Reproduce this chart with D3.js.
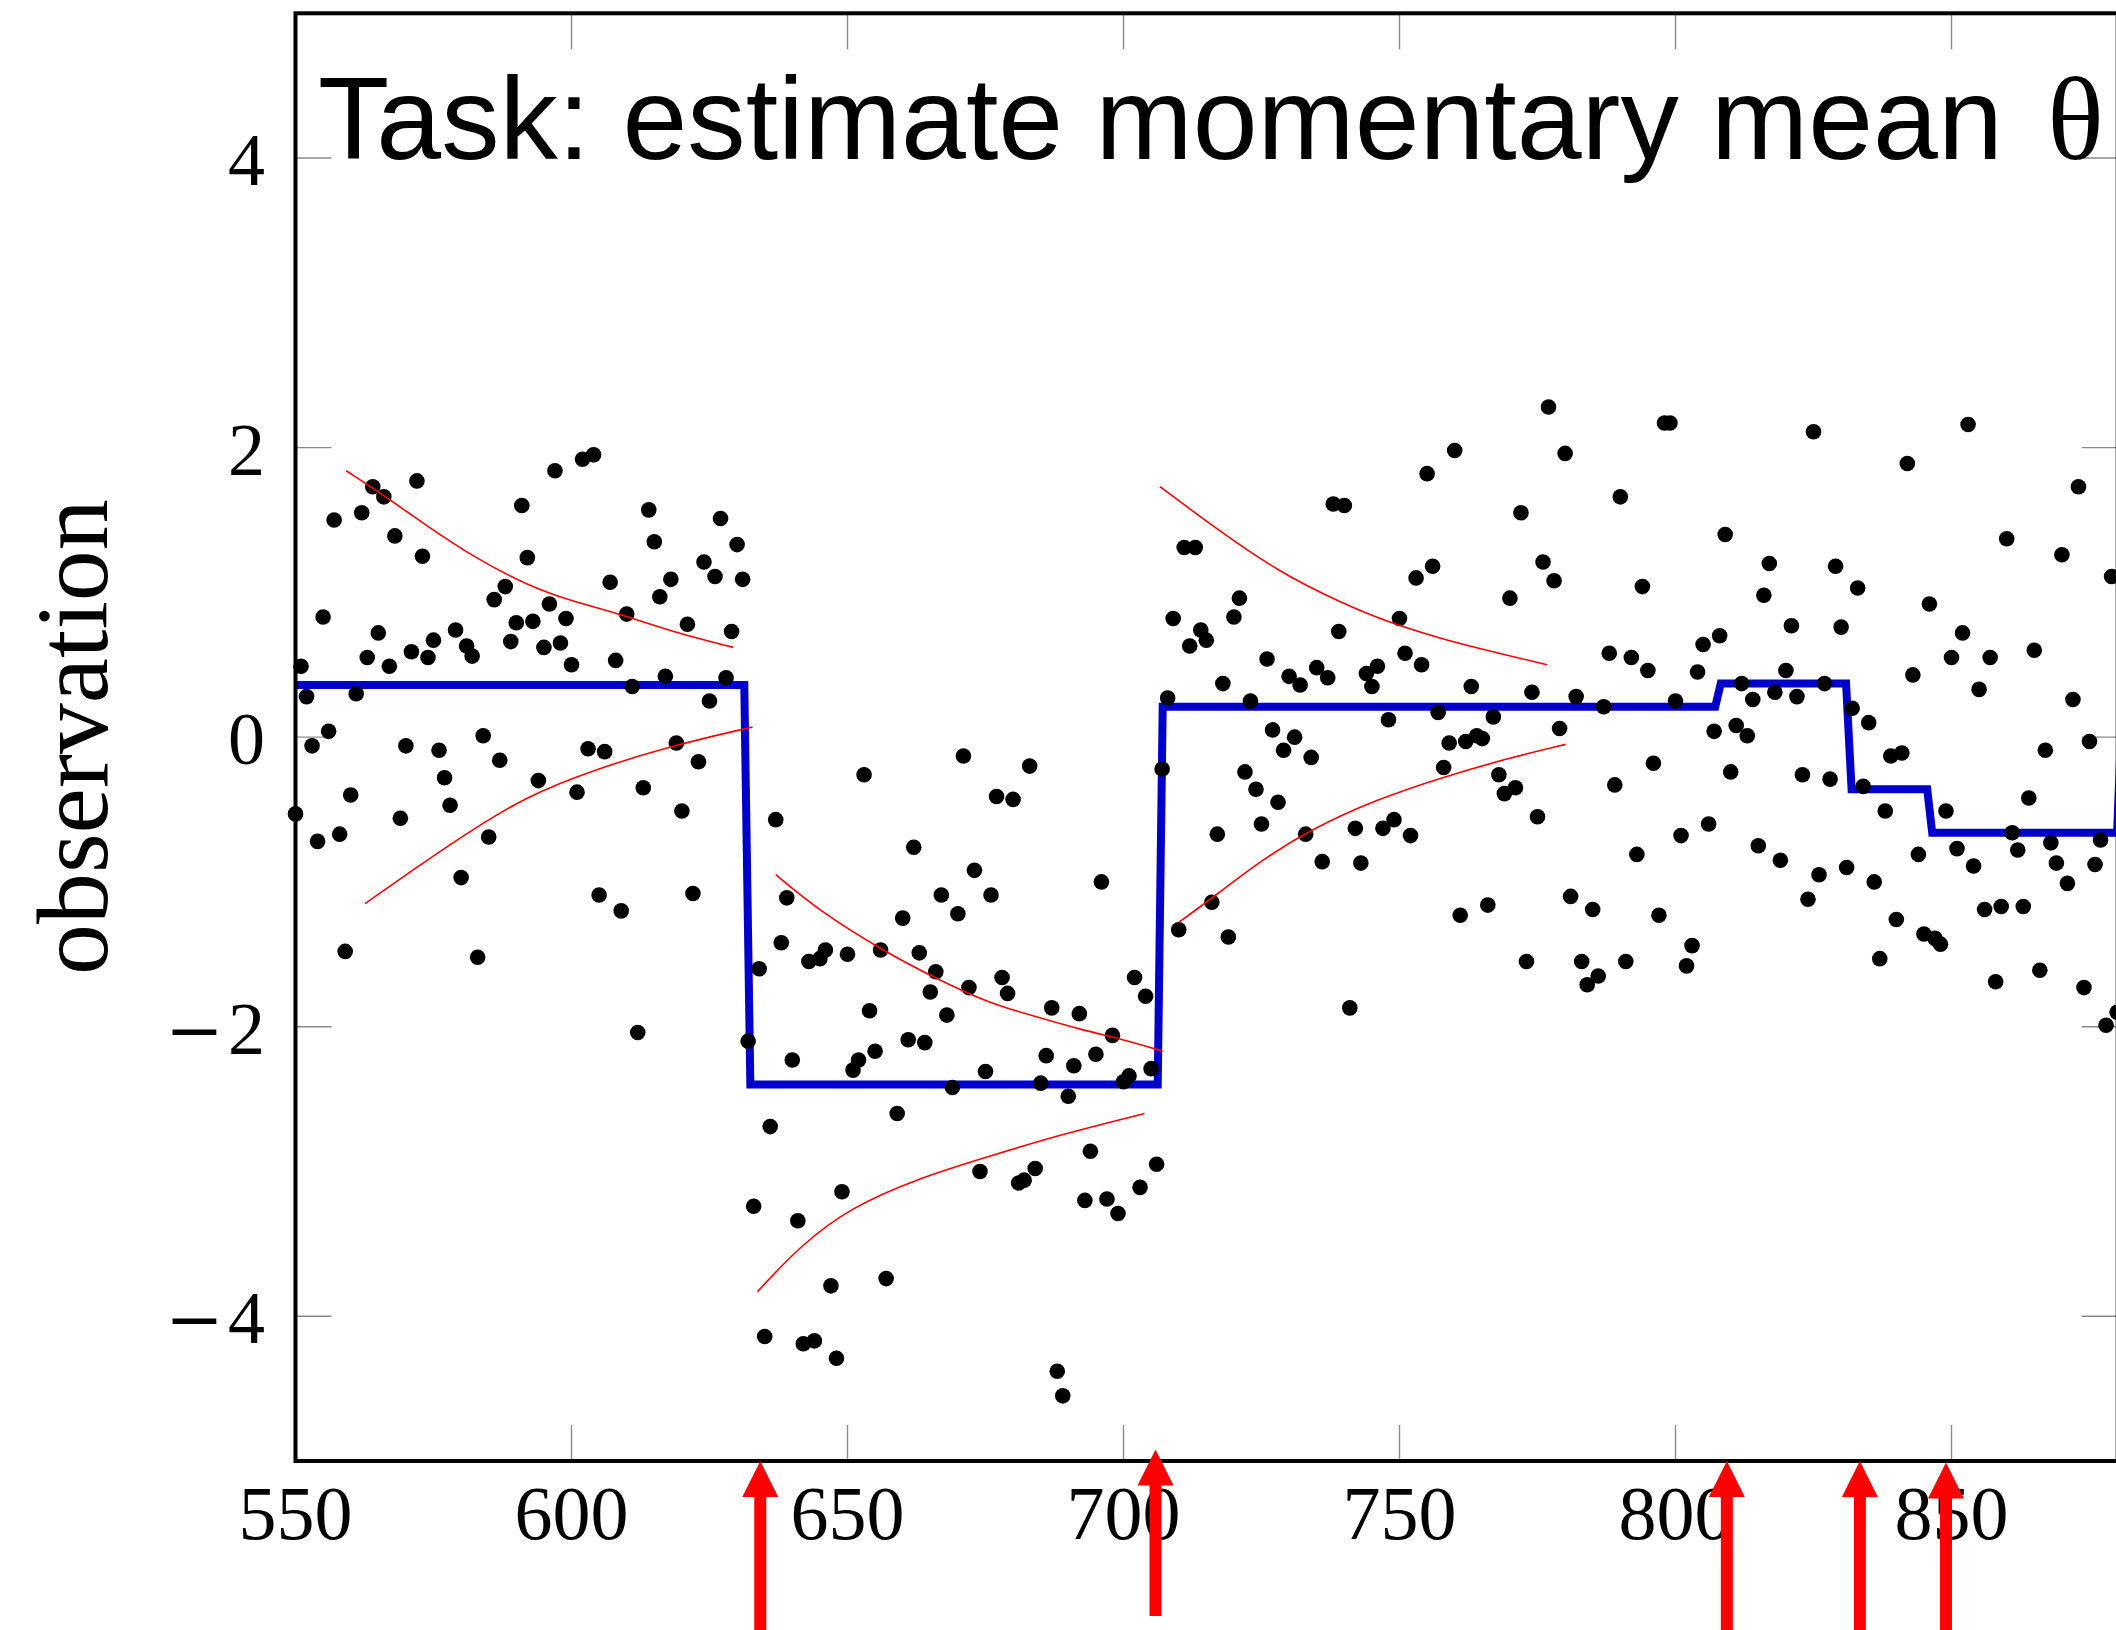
<!DOCTYPE html>
<html><head><meta charset="utf-8">
<script src="https://cdn.jsdelivr.net/npm/d3@7"></script>
<style>html,body{margin:0;padding:0;background:#fff;} svg{display:block;}</style>
</head><body>
<svg id="chart" width="2116" height="1630"></svg>
<script>
// ---------------- data ----------------
const titleText = "Task: estimate momentary mean ";
const titleSymbol = "\u03b8";
const yLabel = "observation";
const xTicks = [550, 600, 650, 700, 750, 800, 850];
const yTicks = [-4, -2, 0, 2, 4];

const obsX = [
550,551,552,553,554,555,556,557,558,559,560,561,562,563,564,565,566,567,568,569,
570,571,572,573,574,575,576,577,578,579,580,581,582,583,584,585,586,587,588,589,
590,591,592,593,594,595,596,597,598,599,600,601,602,603,604,605,606,607,608,609,
610,611,612,613,614,615,616,617,618,619,620,621,622,623,624,625,626,627,628,629,
630,631,632,633,634,635,636,637,638,639,640,641,642,643,644,645,646,647,648,649,
650,651,652,653,654,655,656,657,659,660,661,662,663,664,665,666,667,668,669,
670,671,672,673,674,675,676,677,678,679,680,681,682,683,684,685,686,687,688,689,
690,691,692,693,694,695,696,697,698,699,700,701,702,703,704,705,706,707,708,709,
710,711,712,713,714,715,716,717,718,719,720,721,722,723,724,725,726,727,728,729,
730,731,732,733,734,735,736,737,738,739,740,741,742,743,744,745,746,747,748,749,
750,751,752,753,754,755,756,757,758,759,760,761,762,763,764,765,766,767,768,769,
770,771,772,773,774,775,776,777,778,779,780,781,782,783,784,785,786,787,788,789,
790,791,792,793,794,795,796,797,798,799,800,801,802,803,804,805,806,807,808,809,
810,811,812,813,814,815,816,817,818,819,820,821,822,823,824,825,826,827,828,829,
830,831,832,833,834,835,836,837,838,839,840,841,842,843,844,845,846,847,848,849,
850,851,852,853,854,855,856,857,858,859,860,861,862,863,864,865,866,867,868,869,
870,871,872,873,874,875,876,877,878,879,880];

const obsY = [
-0.53,0.49,0.28,-0.06,-0.72,0.83,0.04,1.50,-0.67,-1.48,-0.40,0.30,1.55,0.55,1.73,0.72,1.66,0.49,1.39,-0.56,
-0.06,0.59,1.77,1.25,0.55,0.67,-0.09,-0.28,-0.47,0.74,-0.97,0.63,0.56,-1.52,0.01,-0.69,0.95,-0.16,1.04,0.66,
0.79,1.60,1.24,0.80,-0.30,0.62,0.92,1.84,0.65,0.82,0.50,-0.38,1.92,-0.08,1.95,-1.09,-0.10,1.07,0.53,-1.20,
0.85,0.35,-2.04,-0.35,1.57,1.35,0.97,0.42,1.09,-0.04,-0.51,0.78,-1.08,-0.17,1.21,0.25,1.11,1.51,0.41,0.73,
1.33,1.09,-2.10,-3.24,-1.60,-4.14,-2.69,-0.57,-1.42,-1.11,-2.23,-3.34,-4.19,-1.55,-4.17,-1.53,-1.47,-3.79,-4.29,-3.14,
-1.50,-2.30,-2.23,-0.26,-1.89,-2.17,-1.47,-3.74,-2.60,-1.25,-2.09,-0.76,-1.49,-2.11,-1.76,-1.62,-1.09,-1.92,-2.42,
-1.22,-0.13,-1.73,-0.92,-3.00,-2.31,-1.09,-0.41,-1.66,-1.77,-0.43,-3.08,-3.06,-0.20,-2.98,-2.39,-2.20,-1.87,-4.38,-4.55,
-2.48,-2.27,-1.91,-3.20,-2.86,-2.19,-1.00,-3.19,-2.06,-3.29,-2.38,-2.34,-1.66,-3.11,-1.79,-2.29,-2.95,-0.22,0.27,0.82,
-1.33,1.31,0.63,1.31,0.74,0.67,-1.14,-0.67,0.37,-1.38,0.83,0.96,-0.24,0.25,-0.36,-0.60,0.54,0.05,-0.45,-0.09,
0.42,0.00,0.36,-0.67,-0.14,0.48,-0.86,0.41,1.61,0.73,1.60,-1.87,-0.63,-0.87,0.44,0.35,0.49,-0.63,0.12,-0.57,
0.82,0.58,-0.68,1.10,0.50,1.82,1.18,0.17,-0.21,-0.04,1.98,-1.23,-0.03,0.35,0.01,-0.01,-1.16,0.14,-0.26,-0.39,
0.96,-0.35,1.55,-1.55,0.31,-0.55,1.21,2.28,1.08,0.06,1.96,-1.10,0.28,-1.55,-1.71,-1.19,-1.65,0.21,0.58,-0.33,
1.66,-1.55,0.55,-0.81,1.04,0.46,-0.18,-1.23,2.17,2.17,0.25,-0.68,-1.58,-1.44,0.45,0.64,-0.60,0.04,0.70,1.40,
-0.24,0.08,0.37,0.01,0.26,-0.75,0.98,1.20,0.31,-0.85,0.46,0.77,0.28,-0.26,-1.12,2.11,-0.95,0.37,-0.29,1.18,
0.76,-0.90,0.20,1.03,-0.34,0.10,-1.00,-1.53,-0.51,-0.13,-1.26,-0.11,1.89,0.43,-0.81,-1.36,0.92,-1.39,-1.43,-0.51,
0.55,-0.77,0.72,2.16,-0.89,0.33,-1.19,0.55,-1.69,-1.17,1.37,-0.66,-0.78,-1.17,-0.42,0.60,-1.61,-0.09,-0.73,-0.87,
1.26,-1.01,0.26,1.73,-1.73,-0.03,-0.88,-0.71,-1.99,1.11,-1.90];

// estimated momentary mean (step function vertices)
const meanX = [550, 631.3, 632.4, 706.2, 707.1, 807.2, 808.2, 830.9, 831.9, 845.6, 846.5, 880.0, 881.0];
const meanY = [0.36, 0.36, -2.40, -2.40, 0.21, 0.21, 0.37, 0.37, -0.36, -0.36, -0.66, -0.66, 0.30];

// confidence bands (red curves), one upper and one lower per segment
const band1Upper = [[559.2,1.84],[566.4,1.66],[573.4,1.47],[582.4,1.24],[591.9,1.05],[599.9,0.94],[608.9,0.85],[618.0,0.73],[629.3,0.62]];
const band1Lower = [[562.6,-1.15],[573.4,-0.86],[582.4,-0.63],[591.9,-0.41],[602.9,-0.24],[618.0,-0.06],[632.8,0.07]];
const band2Upper = [[637.0,-0.95],[644.5,-1.19],[656.6,-1.48],[666.2,-1.67],[675.2,-1.83],[683.1,-1.92],[692.2,-2.02],[701.2,-2.10],[707.1,-2.17]];
const band2Lower = [[633.7,-3.83],[641.5,-3.51],[650.5,-3.25],[662.6,-3.05],[675.2,-2.90],[689.1,-2.74],[703.8,-2.60]];
const band3Upper = [[706.6,1.73],[716.8,1.44],[727.7,1.15],[739.8,0.92],[748.2,0.79],[758.4,0.67],[766.9,0.59],[776.7,0.50]];
const band3Lower = [[710.0,-1.28],[716.8,-1.09],[725.0,-0.85],[733.8,-0.64],[745.8,-0.43],[758.4,-0.27],[769.3,-0.15],[780.1,-0.05]];

// true change points (red arrows below the axis)
const changeX = [634.2, 705.8, 809.3, 833.4, 849.0];
const changeTop = [-5.00, -4.92, -5.00, -5.00, -5.01];
const changeBottom = [-6.4, -6.07, -6.4, -6.4, -6.4];

// ---------------- drawing ----------------
const svg = d3.select("#chart");
svg.append("rect").attr("width", 2116).attr("height", 1630).attr("fill", "#fff");

const x = d3.scaleLinear().domain([550, 880.1]).range([295.5, 295.5 + 330.1 * 5.52]);
const y = d3.scaleLinear().domain([-5, 5]).range([1461, 13.3]);

const X0 = x(550), X1 = x(880.1), Y0 = y(-5), Y1 = y(5);
const tickLen = 36;
const g = svg.append("g");

// inward ticks (gray)
const tickG = g.append("g").attr("stroke", "#8a8a8a").attr("stroke-width", 1.4);
xTicks.forEach(t => {
  tickG.append("line").attr("x1", x(t)).attr("x2", x(t)).attr("y1", Y0).attr("y2", Y0 - tickLen);
  tickG.append("line").attr("x1", x(t)).attr("x2", x(t)).attr("y1", Y1).attr("y2", Y1 + tickLen);
});
yTicks.forEach(t => {
  tickG.append("line").attr("x1", X0).attr("x2", X0 + tickLen).attr("y1", y(t)).attr("y2", y(t));
  tickG.append("line").attr("x1", X1).attr("x2", X1 - tickLen).attr("y1", y(t)).attr("y2", y(t));
});

// blue step line
const meanPts = meanX.map((v, i) => [v, meanY[i]]);
g.append("path").datum(meanPts)
  .attr("d", d3.line().x(d => x(d[0])).y(d => y(d[1])))
  .attr("fill", "none").attr("stroke", "#0000cc").attr("stroke-width", 8)
  .attr("stroke-linejoin", "miter");

// observations
g.append("g").selectAll("circle").data(obsX.map((v, i) => [v, obsY[i]])).join("circle")
  .attr("cx", d => x(d[0])).attr("cy", d => y(d[1])).attr("r", 7.8).attr("fill", "#000");

// red bands
const bandLine = d3.line().x(d => x(d[0])).y(d => y(d[1])).curve(d3.curveBasis);
[band1Upper, band1Lower, band2Upper, band2Lower, band3Upper, band3Lower].forEach(b => {
  g.append("path").datum(b).attr("d", bandLine).attr("fill", "none")
    .attr("stroke", "#ff0000").attr("stroke-width", 1.6);
});

// frame
g.append("rect").attr("x", X0).attr("y", Y1).attr("width", X1 - X0).attr("height", Y0 - Y1)
  .attr("fill", "none").attr("stroke", "#000").attr("stroke-width", 4);

// tick labels
g.append("g").selectAll("text").data(xTicks).join("text")
  .attr("x", d => x(d)).attr("y", 1539).attr("text-anchor", "middle")
  .attr("font-family", "Liberation Serif, serif").attr("font-size", 76).attr("fill", "#000")
  .text(d => String(d));
const yl = g.append("g").selectAll("text").data(yTicks).join("text")
  .attr("x", 265).attr("y", d => y(d) + 27).attr("text-anchor", "end")
  .attr("font-family", "Liberation Serif, serif").attr("font-size", 74).attr("fill", "#000");
yl.filter(d => d < 0).append("tspan").attr("font-family", "DejaVu Serif, serif").attr("font-size", 70).text("\u2212");
yl.append("tspan").attr("dx", d => d < 0 ? 4 : 0).text(d => String(Math.abs(d)));

// y axis label
g.append("text").attr("transform", `translate(107,${y(0)}) rotate(-90)`)
  .attr("text-anchor", "middle").attr("font-family", "Liberation Serif, serif")
  .attr("font-size", 102).attr("fill", "#000").text(yLabel);

// title
const title = g.append("text").attr("x", 318).attr("y", 159)
  .attr("font-family", "Liberation Sans, Arial, sans-serif").attr("font-size", 116.6).attr("fill", "#000");
title.append("tspan").text(titleText);
title.append("tspan").attr("dx", 12).attr("font-family", "Liberation Serif, serif").attr("font-size", 118).text(titleSymbol);

// red arrows
const headLen = 36, headHalf = 18, shaftHalf = 6;
g.append("g").selectAll("path").data(changeX.map((v, i) => ({x: v, top: changeTop[i], bot: changeBottom[i]}))).join("path")
  .attr("d", d => {
    const cx = x(d.x), ty = y(d.top), by = y(d.bot);
    return `M${cx},${ty} L${cx + headHalf},${ty + headLen} L${cx + shaftHalf},${ty + headLen} L${cx + shaftHalf},${by}` +
           ` L${cx - shaftHalf},${by} L${cx - shaftHalf},${ty + headLen} L${cx - headHalf},${ty + headLen} Z`;
  })
  .attr("fill", "#ff0000");
</script>
</body></html>
